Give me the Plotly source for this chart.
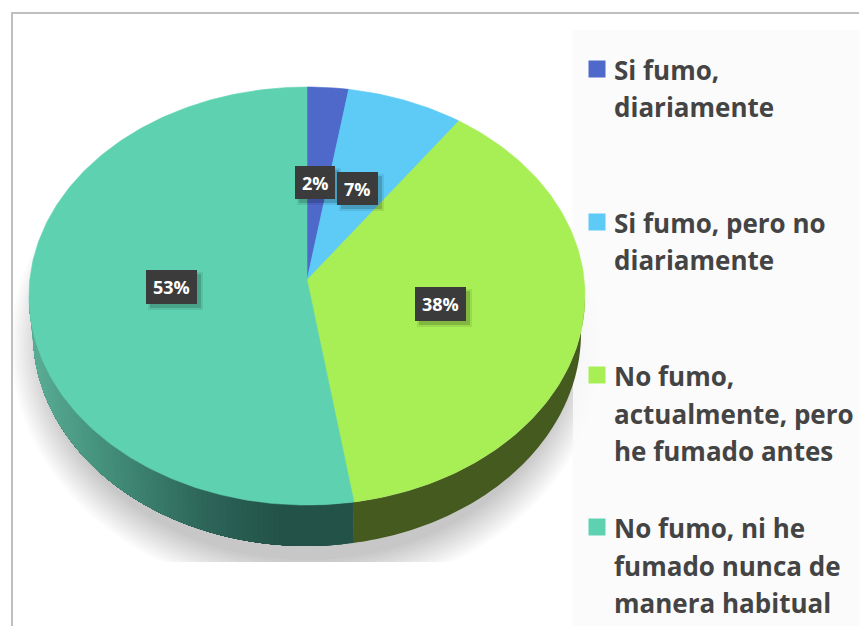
import numpy as np
import plotly.graph_objects as go

# Shares of each answer, clockwise from 12 o'clock
categories = [
    "Si fumo, diariamente",
    "Si fumo, pero no diariamente",
    "No fumo, actualmente, pero he fumado antes",
    "No fumo, ni he fumado nunca de manera habitual",
]
shares = [2.4, 6.8, 38.1, 52.7]
colors = ["#4f69cb", "#5ecbf7", "#a8ee55", "#5ed2b0"]
legend_lines = [
    ["Si fumo,", "diariamente"],
    ["Si fumo, pero no", "diariamente"],
    ["No fumo,", "actualmente, pero", "he fumado antes"],
    ["No fumo, ni he", "fumado nunca de", "manera habitual"],
]

# Page layout, in pixels
W, H = 859, 626
CX, CY, RX, RY = 307, 296, 278, 209  # top face of the tilted pie
APEX = (307, 280)  # perspective moves the centre point up
WALL_CY, WALL_RX, WALL_RY = 333, 274, 213  # bottom rim
SHADOW_BOTTOM = 562
LABEL_BOXES = [(295, 335, 166, 199), (337, 378, 172, 205), (415, 466, 287, 321), (146, 197, 270, 304)]
LEGEND_Y = [[70, 107], [223, 260], [376, 414, 451], [528, 566, 603]]
FONT = "Open Sans"


def rim(theta, cy=CY, rx=RX, ry=RY):
    return CX + rx * np.sin(theta), cy - ry * np.cos(theta)


def polygon(x, y, color, width=0.6):
    return go.Scatter(
        x=x, y=y, mode="lines" if width else "none", fill="toself", fillcolor=color,
        line=dict(color=color, width=width), hoverinfo="skip", showlegend=False,
    )


def wall(a0, a1, color):
    theta = np.linspace(a0, a1, max(3, int((a1 - a0) * 60)))
    tx, ty = rim(theta)
    bx, by = rim(theta[::-1], WALL_CY, WALL_RX, WALL_RY)
    return polygon(list(tx) + list(bx) + [tx[0]], list(ty) + list(by) + [ty[0]], color, width=0)


fig = go.Figure()

# Soft shadow, cut off flat at the bottom like the picture
angles = np.linspace(0, 2 * np.pi, 241)
for step in range(14):
    sx = CX + (296 - step * 2.6) * np.sin(angles)
    sy = 345 - (249 - step * 2.6) * np.cos(angles)
    fig.add_trace(
        go.Scatter(
            x=sx, y=np.minimum(sy, SHADOW_BOTTOM), mode="none", fill="toself",
            fillcolor="rgba(0,0,0,0.017)", hoverinfo="skip", showlegend=False,
        )
    )

# Legend panel goes over the shadow but under the pie
fig.add_trace(
    go.Scatter(
        x=[573, W, W, 573, 573], y=[30, 30, H, H, 30], mode="none", fill="toself",
        fillcolor="rgba(250,250,250,0.88)", hoverinfo="skip", showlegend=False,
    )
)

edges = 2 * np.pi * np.cumsum([0] + shares) / sum(shares)

# Side wall of the pie: only the lower half of the rim shows
# green part is flat, teal part darkens towards the bottom; strips overlap to hide seams
fig.add_trace(wall(np.pi / 2, edges[3] + 0.001, "#455a1e"))
strips = np.linspace(edges[3], 3 * np.pi / 2, 91)
for a0 in strips[:-1]:
    mid = rim(a0)[0]
    r = np.interp(mid, [33, 90, 150, 210, 285], [90, 72, 58, 44, 34])
    g = np.interp(mid, [33, 90, 150, 210, 285], [172, 150, 125, 100, 82])
    b = np.interp(mid, [33, 90, 150, 210, 285], [148, 128, 108, 88, 72])
    fig.add_trace(wall(a0, 3 * np.pi / 2, f"rgb({r:.0f},{g:.0f},{b:.0f})"))

# Top face slices
for i, color in enumerate(colors):
    theta = np.linspace(edges[i], edges[i + 1], max(3, int(shares[i] * 4)))
    rx_pts, ry_pts = rim(theta)
    fig.add_trace(
        polygon(
            [APEX[0]] + list(rx_pts) + [APEX[0]],
            [APEX[1]] + list(ry_pts) + [APEX[1]],
            color,
        )
    )

# Legend swatches
for i, color in enumerate(colors):
    fig.add_trace(
        go.Scatter(
            x=[597], y=[LEGEND_Y[i][0] - 1], mode="markers",
            marker=dict(symbol="square", size=17, color=color), hoverinfo="skip", showlegend=False,
        )
    )

# Legend text, one annotation per line for the wide line spacing
for lines, ys in zip(legend_lines, LEGEND_Y):
    for line, y in zip(lines, ys):
        fig.add_annotation(
            x=612, y=y, text=f"<b>{line}</b>", showarrow=False, xanchor="left", yanchor="middle",
            font=dict(family=FONT, size=26, color="#444444"),
        )

# Data labels in dark boxes with a drop shadow
for share, (x0, x1, y0, y1) in zip(shares, LABEL_BOXES):
    for grow, alpha in [(2, 0.08), (0, 0.16)]:
        fig.add_shape(type="rect", x0=x0 + 4 - grow, x1=x1 + 4 + grow, y0=y0 + 4 - grow, y1=y1 + 4 + grow,
                      fillcolor=f"rgba(0,0,0,{alpha})", line_width=0)
    fig.add_shape(type="rect", x0=x0, x1=x1, y0=y0, y1=y1, fillcolor="#3b3b3b", line_width=0)
    fig.add_annotation(
        x=(x0 + x1) / 2, y=(y0 + y1) / 2, text=f"<b>{share:.0f}%</b>", showarrow=False,
        font=dict(family=FONT, size=18, color="#ffffff"),
    )

# Bits of the text above the chart, cut off by the crop
fig.add_annotation(x=186, y=-9, text="_", showarrow=False, yanchor="middle", font=dict(family=FONT, size=22, color="#333333"))
fig.add_annotation(x=270, y=-9, text=")", showarrow=False, yanchor="middle", font=dict(family=FONT, size=22, color="#333333"))

# Chart frame
fig.add_shape(type="line", x0=11, x1=W, y0=13, y1=13, line=dict(color="#bfbfbf", width=2))
fig.add_shape(type="line", x0=12, x1=12, y0=13, y1=H, line=dict(color="#bfbfbf", width=2))

fig.update_xaxes(range=[0, W], visible=False, fixedrange=True)
fig.update_yaxes(range=[H, 0], visible=False, fixedrange=True)
fig.update_layout(
    width=W, height=H, margin=dict(l=0, r=0, t=0, b=0),
    paper_bgcolor="white", plot_bgcolor="white", showlegend=False,
)

fig.write_html(
    "out.html",
    config={"displayModeBar": False},
    post_script="document.body.style.margin='0';document.body.style.overflow='hidden';",
)
